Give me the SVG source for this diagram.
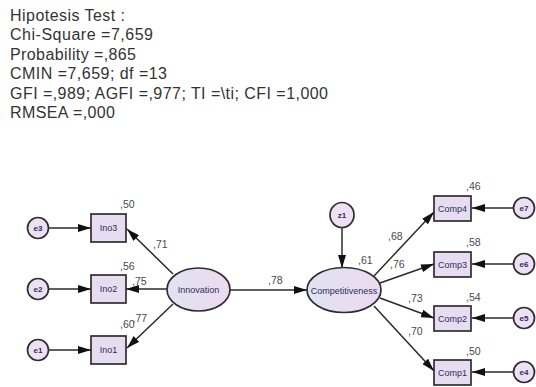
<svg xmlns="http://www.w3.org/2000/svg" width="536" height="387" viewBox="0 0 536 387">
<defs>
<linearGradient id="lat" x1="0" y1="0" x2="1" y2="0">
<stop offset="0" stop-color="#dfe3f1"/>
<stop offset="1" stop-color="#eedaf0"/>
</linearGradient>
<marker id="ah" viewBox="0 0 13 8" refX="13" refY="4" markerWidth="13" markerHeight="8" markerUnits="userSpaceOnUse" orient="auto">
<path d="M0,0 L13,4 L0,8 z" fill="#111"/>
</marker>
</defs>
<style>
.hdr{font-family:"Liberation Sans",Arial,sans-serif;font-size:16px;fill:#333}
.box{fill:#e8ddf0;stroke:#2e2e2e;stroke-width:1.7}
.lat{fill:url(#lat);stroke:#2e2e2e;stroke-width:1.7}
.err{fill:#ece0f2;stroke:#2e2e2e;stroke-width:1.7}
.nl{font-family:"Liberation Sans",Arial,sans-serif;font-size:9px;fill:#2b2f5c;text-anchor:middle;dominant-baseline:central}
.el{font-family:"Liberation Sans",Arial,sans-serif;font-size:8px;font-weight:bold;fill:#2b2f5c;text-anchor:middle;dominant-baseline:central}
.num{font-family:"Liberation Sans",Arial,sans-serif;font-size:10.5px;fill:#444a55}
.cn{stroke:#2a2a2a;stroke-width:1.5;fill:none;marker-end:url(#ah)}
</style>
<rect width="536" height="387" fill="#fff"/>
<g id="header">
<text class="hdr" x="10" y="21" textLength="115">Hipotesis Test :</text>
<text class="hdr" x="10" y="40.4" textLength="143">Chi-Square =7,659</text>
<text class="hdr" x="10" y="59.8" textLength="126">Probability =,865</text>
<text class="hdr" x="10" y="79.2" textLength="157">CMIN =7,659; df =13</text>
<text class="hdr" x="10" y="98.6" textLength="318">GFI =,989; AGFI =,977; TI =\ti; CFI =1,000</text>
<text class="hdr" x="10" y="118" textLength="105">RMSEA =,000</text>
</g>
<g id="connectors">
<line class="cn" x1="49" y1="228" x2="91" y2="228"/>
<line class="cn" x1="49" y1="289" x2="91" y2="289"/>
<line class="cn" x1="49" y1="350" x2="91" y2="350"/>
<line class="cn" x1="173" y1="274" x2="127" y2="229"/>
<line class="cn" x1="167" y1="289" x2="126" y2="289"/>
<line class="cn" x1="173" y1="304" x2="127" y2="348"/>
<line class="cn" x1="230" y1="290" x2="307" y2="290"/>
<line class="cn" x1="342" y1="227.5" x2="342" y2="268"/>
<line class="cn" x1="374" y1="276" x2="434" y2="212"/>
<line class="cn" x1="380" y1="283" x2="434" y2="264"/>
<line class="cn" x1="380" y1="298" x2="434" y2="318"/>
<line class="cn" x1="374" y1="306" x2="434" y2="371"/>
<line class="cn" x1="513.5" y1="208" x2="472" y2="208"/>
<line class="cn" x1="513.5" y1="264" x2="472" y2="264"/>
<line class="cn" x1="513.5" y1="318" x2="472" y2="318"/>
<line class="cn" x1="513.5" y1="372" x2="472" y2="372"/>
</g>
<g id="e3"><circle class="err" cx="38" cy="228" r="10.5"/><text class="el" x="38" y="228">e3</text></g>
<g id="e2"><circle class="err" cx="38" cy="289" r="10.5"/><text class="el" x="38" y="289">e2</text></g>
<g id="e1"><circle class="err" cx="38" cy="350" r="10.5"/><text class="el" x="38" y="350">e1</text></g>
<g id="Ino3"><rect class="box" x="91" y="214" width="35" height="28"/><text class="nl" x="108.5" y="228">Ino3</text></g>
<g id="Ino2"><rect class="box" x="91" y="275" width="35" height="28"/><text class="nl" x="108.5" y="289">Ino2</text></g>
<g id="Ino1"><rect class="box" x="91" y="336" width="35" height="28"/><text class="nl" x="108.5" y="350">Ino1</text></g>
<g id="Innovation"><ellipse class="lat" cx="198.5" cy="289.5" rx="31.5" ry="21.5"/><text class="nl" x="198.5" y="289.5">Innovation</text></g>
<g id="z1"><ellipse class="err" cx="342" cy="215" rx="12" ry="12.5"/><text class="el" x="342" y="215">z1</text></g>
<g id="Competitiveness"><ellipse class="lat" cx="344" cy="290" rx="37" ry="22.5"/><text class="nl" x="344" y="291">Competitiveness</text></g>
<g id="Comp4"><rect class="box" x="434" y="196" width="37" height="25"/><text class="nl" x="452.5" y="208.5">Comp4</text></g>
<g id="Comp3"><rect class="box" x="434" y="252" width="37" height="25"/><text class="nl" x="452.5" y="264.5">Comp3</text></g>
<g id="Comp2"><rect class="box" x="434" y="306" width="37" height="25"/><text class="nl" x="452.5" y="318.5">Comp2</text></g>
<g id="Comp1"><rect class="box" x="434" y="360" width="37" height="25"/><text class="nl" x="452.5" y="372.5">Comp1</text></g>
<g id="e7"><circle class="err" cx="524" cy="208" r="10.5"/><text class="el" x="524" y="208">e7</text></g>
<g id="e6"><circle class="err" cx="524" cy="264" r="10.5"/><text class="el" x="524" y="264">e6</text></g>
<g id="e5"><circle class="err" cx="524" cy="318" r="10.5"/><text class="el" x="524" y="318">e5</text></g>
<g id="e4"><circle class="err" cx="524" cy="372" r="10.5"/><text class="el" x="524" y="372">e4</text></g>
<g id="labels">
<text class="num" x="120" y="208">,50</text>
<text class="num" x="153" y="248">,71</text>
<text class="num" x="120" y="270">,56</text>
<text class="num" x="132" y="284.5">,75</text>
<text class="num" x="120" y="328">,60</text>
<text class="num" x="132.5" y="321.5">,77</text>
<text class="num" x="268" y="284">,78</text>
<text class="num" x="358" y="264">,61</text>
<text class="num" x="466" y="190">,46</text>
<text class="num" x="388" y="240">,68</text>
<text class="num" x="466" y="246">,58</text>
<text class="num" x="390" y="268">,76</text>
<text class="num" x="408" y="302">,73</text>
<text class="num" x="466" y="300.5">,54</text>
<text class="num" x="408" y="335">,70</text>
<text class="num" x="466" y="355">,50</text>
</g>
</svg>
